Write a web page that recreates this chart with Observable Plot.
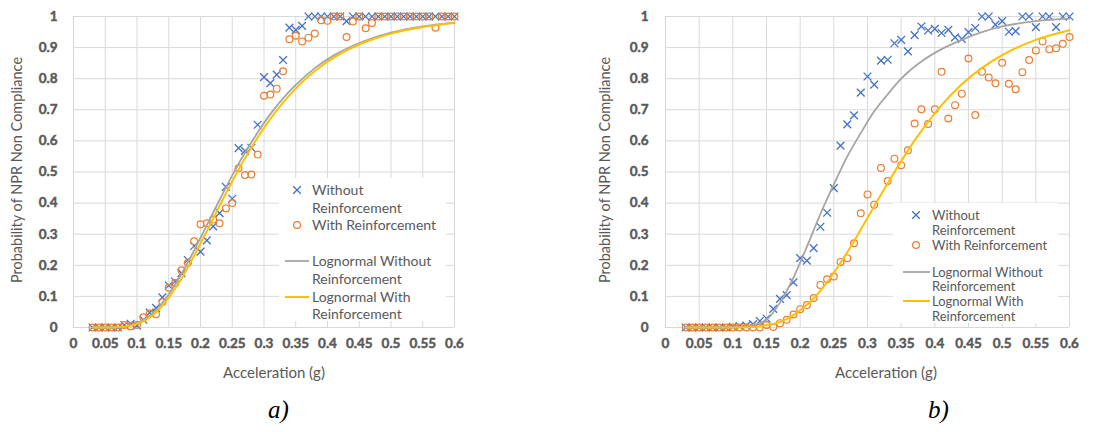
<!DOCTYPE html>
<html>
<head>
<meta charset="utf-8">
<script src="https://cdn.jsdelivr.net/npm/d3@7"></script>
<script src="https://cdn.jsdelivr.net/npm/@observablehq/plot@0.6"></script>
<style>
  html, body { margin: 0; padding: 0; background: #fff; }
  #wrap { position: relative; width: 1105px; height: 432px; overflow: hidden; font-family: Lato, sans-serif; }
  .panel { position: absolute; top: 0; }
  .tag { position: absolute; top: 396px; font: italic 25px "Liberation Serif", "DejaVu Serif", serif; color: #000; }
</style>
</head>
<body>
<div id="wrap"></div>
<script>
// Peak ground acceleration levels (g) at which the fragility was evaluated
const accel = [0.03, 0.04, 0.05, 0.06, 0.07, 0.08, 0.09, 0.10, 0.11, 0.12,
  0.13, 0.14, 0.15, 0.16, 0.17, 0.18, 0.19, 0.20, 0.21, 0.22,
  0.23, 0.24, 0.25, 0.26, 0.27, 0.28, 0.29, 0.30, 0.31, 0.32,
  0.33, 0.34, 0.35, 0.36, 0.37, 0.38, 0.39, 0.40, 0.41, 0.42,
  0.43, 0.44, 0.45, 0.46, 0.47, 0.48, 0.49, 0.50, 0.51, 0.52,
  0.53, 0.54, 0.55, 0.56, 0.57, 0.58, 0.59, 0.60];

// a) observed probability of NPR non compliance
const aWithout = [0, 0, 0, 0, 0, 0.008, 0.012, 0.006, 0.025, 0.048,
  0.063, 0.097, 0.135, 0.148, 0.175, 0.217, 0.262, 0.244, 0.28, 0.325,
  0.368, 0.452, 0.414, 0.577, 0.568, 0.578, 0.652, 0.805, 0.786, 0.813,
  0.86, 0.964, 0.957, 0.97, 1, 1, 1, 1, 1, 1,
  0.985, 1, 1, 1, 1, 1, 1, 1, 1, 1,
  1, 1, 1, 1, 1, 1, 1, 1];
const aWith = [0, 0, 0, 0, 0, 0.008, 0.003, 0.008, 0.033, 0.045,
  0.043, 0.082, 0.128, 0.143, 0.184, 0.208, 0.277, 0.332, 0.335, 0.347,
  0.335, 0.383, 0.40, 0.512, 0.49, 0.492, 0.556, 0.745, 0.749, 0.768,
  0.824, 0.927, 0.938, 0.92, 0.932, 0.945, 0.988, 0.986, 1, 1,
  0.934, 0.984, 1, 0.962, 0.979, 1, 1, 1, 1, 1,
  1, 1, 1, 1, 0.964, 1, 1, 1];

// b) observed probability of NPR non compliance
const bWithout = [0, 0, 0, 0, 0, 0, 0, 0.002, 0.004, 0.006,
  0.011, 0.021, 0.029, 0.06, 0.092, 0.104, 0.145, 0.223, 0.215, 0.255,
  0.324, 0.369, 0.448, 0.585, 0.653, 0.682, 0.755, 0.807, 0.781, 0.858,
  0.861, 0.914, 0.925, 0.888, 0.94, 0.968, 0.955, 0.96, 0.947, 0.957,
  0.933, 0.928, 0.95, 0.963, 1, 1, 0.974, 0.985, 0.951, 0.953,
  1, 1, 0.966, 1, 1, 0.966, 1, 1];
const bWith = [0, 0, 0, 0, 0, 0, 0, 0, 0, 0,
  0, 0, 0.008, 0.002, 0.014, 0.025, 0.042, 0.059, 0.072, 0.095,
  0.137, 0.155, 0.164, 0.211, 0.223, 0.271, 0.367, 0.428, 0.395, 0.513,
  0.471, 0.543, 0.522, 0.57, 0.656, 0.702, 0.654, 0.702, 0.822, 0.672,
  0.715, 0.752, 0.865, 0.683, 0.822, 0.804, 0.785, 0.851, 0.784, 0.766,
  0.821, 0.86, 0.891, 0.92, 0.895, 0.898, 0.912, 0.934];

// Fitted lognormal fragility curves
const fitAccel = [0.03, 0.05, 0.07, 0.09, 0.11, 0.13, 0.15, 0.17, 0.19, 0.21,
  0.23, 0.25, 0.27, 0.29, 0.31, 0.33, 0.35, 0.38, 0.41, 0.44,
  0.47, 0.50, 0.55, 0.60];
const aFitWithout = [0, 0.0001, 0.001, 0.007, 0.024, 0.057, 0.107, 0.172, 0.248, 0.329,
  0.41, 0.489, 0.562, 0.627, 0.686, 0.737, 0.78, 0.834, 0.875, 0.906,
  0.93, 0.948, 0.968, 0.98];
const aFitWith = [0, 0, 0.001, 0.006, 0.02, 0.049, 0.096, 0.157, 0.231, 0.31,
  0.391, 0.47, 0.544, 0.611, 0.671, 0.723, 0.769, 0.825, 0.868, 0.901,
  0.926, 0.945, 0.966, 0.979];
const bFitWithout = [0, 0, 0, 0.001, 0.003, 0.008, 0.025, 0.08, 0.16, 0.26,
  0.365, 0.46, 0.55, 0.625, 0.695, 0.75, 0.8, 0.855, 0.895, 0.925,
  0.95, 0.968, 0.985, 0.993];
const bFitWith = [0, 0, 0, 0, 0.0003, 0.002, 0.007, 0.018, 0.04, 0.073,
  0.118, 0.176, 0.242, 0.315, 0.39, 0.464, 0.535, 0.632, 0.715, 0.782,
  0.835, 0.876, 0.925, 0.956];

const xTicks = [0, 0.05, 0.1, 0.15, 0.2, 0.25, 0.3, 0.35, 0.4, 0.45, 0.5, 0.55, 0.6];
const yTicks = [0, 0.1, 0.2, 0.3, 0.4, 0.5, 0.6, 0.7, 0.8, 0.9, 1];

const seriesNames = ["Without Reinforcement", "With Reinforcement",
  "Lognormal Without Reinforcement", "Lognormal With Reinforcement"];
const xTitle = "Acceleration (g)";
const yTitle = "Probability of NPR Non Compliance";
const panelTags = ["a)", "b)"];

const BLUE = "#4472C4", ORANGE = "#ED7D31", GREY = "#A5A5A5", GOLD = "#FFC000";
const TEXT = "#595959", GRID = "#D9D9D9";

const pairs = (xs, ys) => xs.map((x, i) => ({x, y: ys[i]}));

function drawPanel(cfg) {
  // the svg's own font is bold so the axis tick labels render bold;
  // titles and legend entries below are set back to normal weight
  const chart = Plot.plot({
    width: cfg.width,
    height: 390,
    marginLeft: cfg.marginLeft,
    marginRight: cfg.marginRight,
    marginTop: 16,
    marginBottom: 63,
    style: {fontFamily: "Lato, sans-serif", fontSize: cfg.tickSize + "px", fontWeight: "bold", color: TEXT, background: "#fff"},
    x: {domain: [0, 0.6]},
    y: {domain: [0, 1]},
    marks: [
      Plot.gridX({ticks: xTicks, stroke: GRID, strokeOpacity: 1, strokeWidth: 1}),
      Plot.gridY({ticks: yTicks, stroke: GRID, strokeOpacity: 1, strokeWidth: 1}),
      Plot.axisX({ticks: xTicks, tickSize: 0, tickPadding: 11, label: null, tickFormat: d => String(d)}),
      Plot.axisY({ticks: yTicks, tickSize: 0, tickPadding: cfg.yPad, label: null, tickFormat: d => String(d)}),
      Plot.dot(pairs(accel, cfg.without), {x: "x", y: "y", symbol: "times", r: 3.6, stroke: BLUE, strokeWidth: 1.3}),
      Plot.dot(pairs(accel, cfg.withR), {x: "x", y: "y", symbol: "circle", r: 3.4, stroke: ORANGE, strokeWidth: 1.2, fill: "none"}),
      Plot.line(pairs(fitAccel, cfg.fitWithout), {x: "x", y: "y", stroke: GREY, strokeWidth: 1.8, curve: "monotone-x"}),
      Plot.line(pairs(fitAccel, cfg.fitWith), {x: "x", y: "y", stroke: GOLD, strokeWidth: 2, curve: "monotone-x"})
    ]
  });

  const svg = d3.select(chart);

  // heavier tick labels
  svg.selectAll("text").attr("stroke", TEXT).attr("stroke-width", 0.45);

  // axis titles
  svg.append("text")
    .attr("x", cfg.xTitleX).attr("y", 373).attr("dy", "0.35em")
    .attr("text-anchor", "middle").attr("fill", TEXT)
    .style("font-size", "15px").style("font-weight", "normal").text(xTitle);
  svg.append("text")
    .attr("transform", `translate(${cfg.yTitleX},170) rotate(-90)`)
    .attr("dy", "0.35em").attr("text-anchor", "middle").attr("fill", TEXT)
    .style("font-size", "14.5px").style("font-weight", "normal").text(yTitle);

  // legend box drawn over the plotting area
  const L = cfg.legend;
  const g = svg.append("g").style("font-size", L.font + "px").style("font-weight", "normal")
    .attr("fill", TEXT).attr("text-anchor", "start");
  g.append("rect").attr("x", L.x).attr("y", L.y).attr("width", L.w).attr("height", L.h).attr("fill", "#fff");
  const text = (t, y) => g.append("text").attr("x", L.tx).attr("y", y).attr("dy", "0.35em").attr("text-anchor", "start").text(t);
  const s = 3.8;
  g.append("path").attr("d", `M${L.mx - s},${L.rows[0] - s}L${L.mx + s},${L.rows[0] + s}M${L.mx - s},${L.rows[0] + s}L${L.mx + s},${L.rows[0] - s}`)
    .attr("stroke", BLUE).attr("stroke-width", 1.3).attr("fill", "none");
  text("Without", L.rows[0]);
  text("Reinforcement", L.rows[1]);
  g.append("circle").attr("cx", L.mx).attr("cy", L.rows[2]).attr("r", 3.4)
    .attr("stroke", ORANGE).attr("stroke-width", 1.2).attr("fill", "none");
  text(seriesNames[1], L.rows[2]);
  g.append("line").attr("x1", L.lx1).attr("x2", L.lx2).attr("y1", L.rows[3]).attr("y2", L.rows[3])
    .attr("stroke", GREY).attr("stroke-width", 1.8);
  text("Lognormal Without", L.rows[3]);
  text("Reinforcement", L.rows[4]);
  g.append("line").attr("x1", L.lx1).attr("x2", L.lx2).attr("y1", L.rows[5]).attr("y2", L.rows[5])
    .attr("stroke", GOLD).attr("stroke-width", 2);
  text("Lognormal With", L.rows[5]);
  text("Reinforcement", L.rows[6]);

  chart.classList.add("panel");
  chart.style.left = cfg.left + "px";
  document.getElementById("wrap").appendChild(chart);

  const tag = document.createElement("div");
  tag.className = "tag";
  tag.style.left = cfg.tagX + "px";
  tag.textContent = cfg.tag;
  document.getElementById("wrap").appendChild(tag);
}

drawPanel({
  left: 0, width: 470, marginLeft: 73, marginRight: 16, yPad: 16, tickSize: 13.5,
  without: aWithout, withR: aWith, fitWithout: aFitWithout, fitWith: aFitWith,
  xTitleX: 274, yTitleX: 17, tag: panelTags[0], tagX: 268,
  legend: {x: 279, y: 178, w: 167, h: 143, font: 14, mx: 297, tx: 312, lx1: 285, lx2: 309,
    rows: [190, 208, 225, 261, 279, 297, 314]}
});

drawPanel({
  left: 560, width: 530, marginLeft: 105, marginRight: 21, yPad: 17, tickSize: 13.5,
  without: bWithout, withR: bWith, fitWithout: bFitWithout, fitWith: bFitWith,
  xTitleX: 326, yTitleX: 45, tag: panelTags[1], tagX: 928,
  legend: {x: 333, y: 203, w: 165, h: 120, font: 13, mx: 356, tx: 372, lx1: 343, lx2: 370,
    rows: [215, 230, 245, 272, 286, 301, 316]}
});
</script>
</body>
</html>
